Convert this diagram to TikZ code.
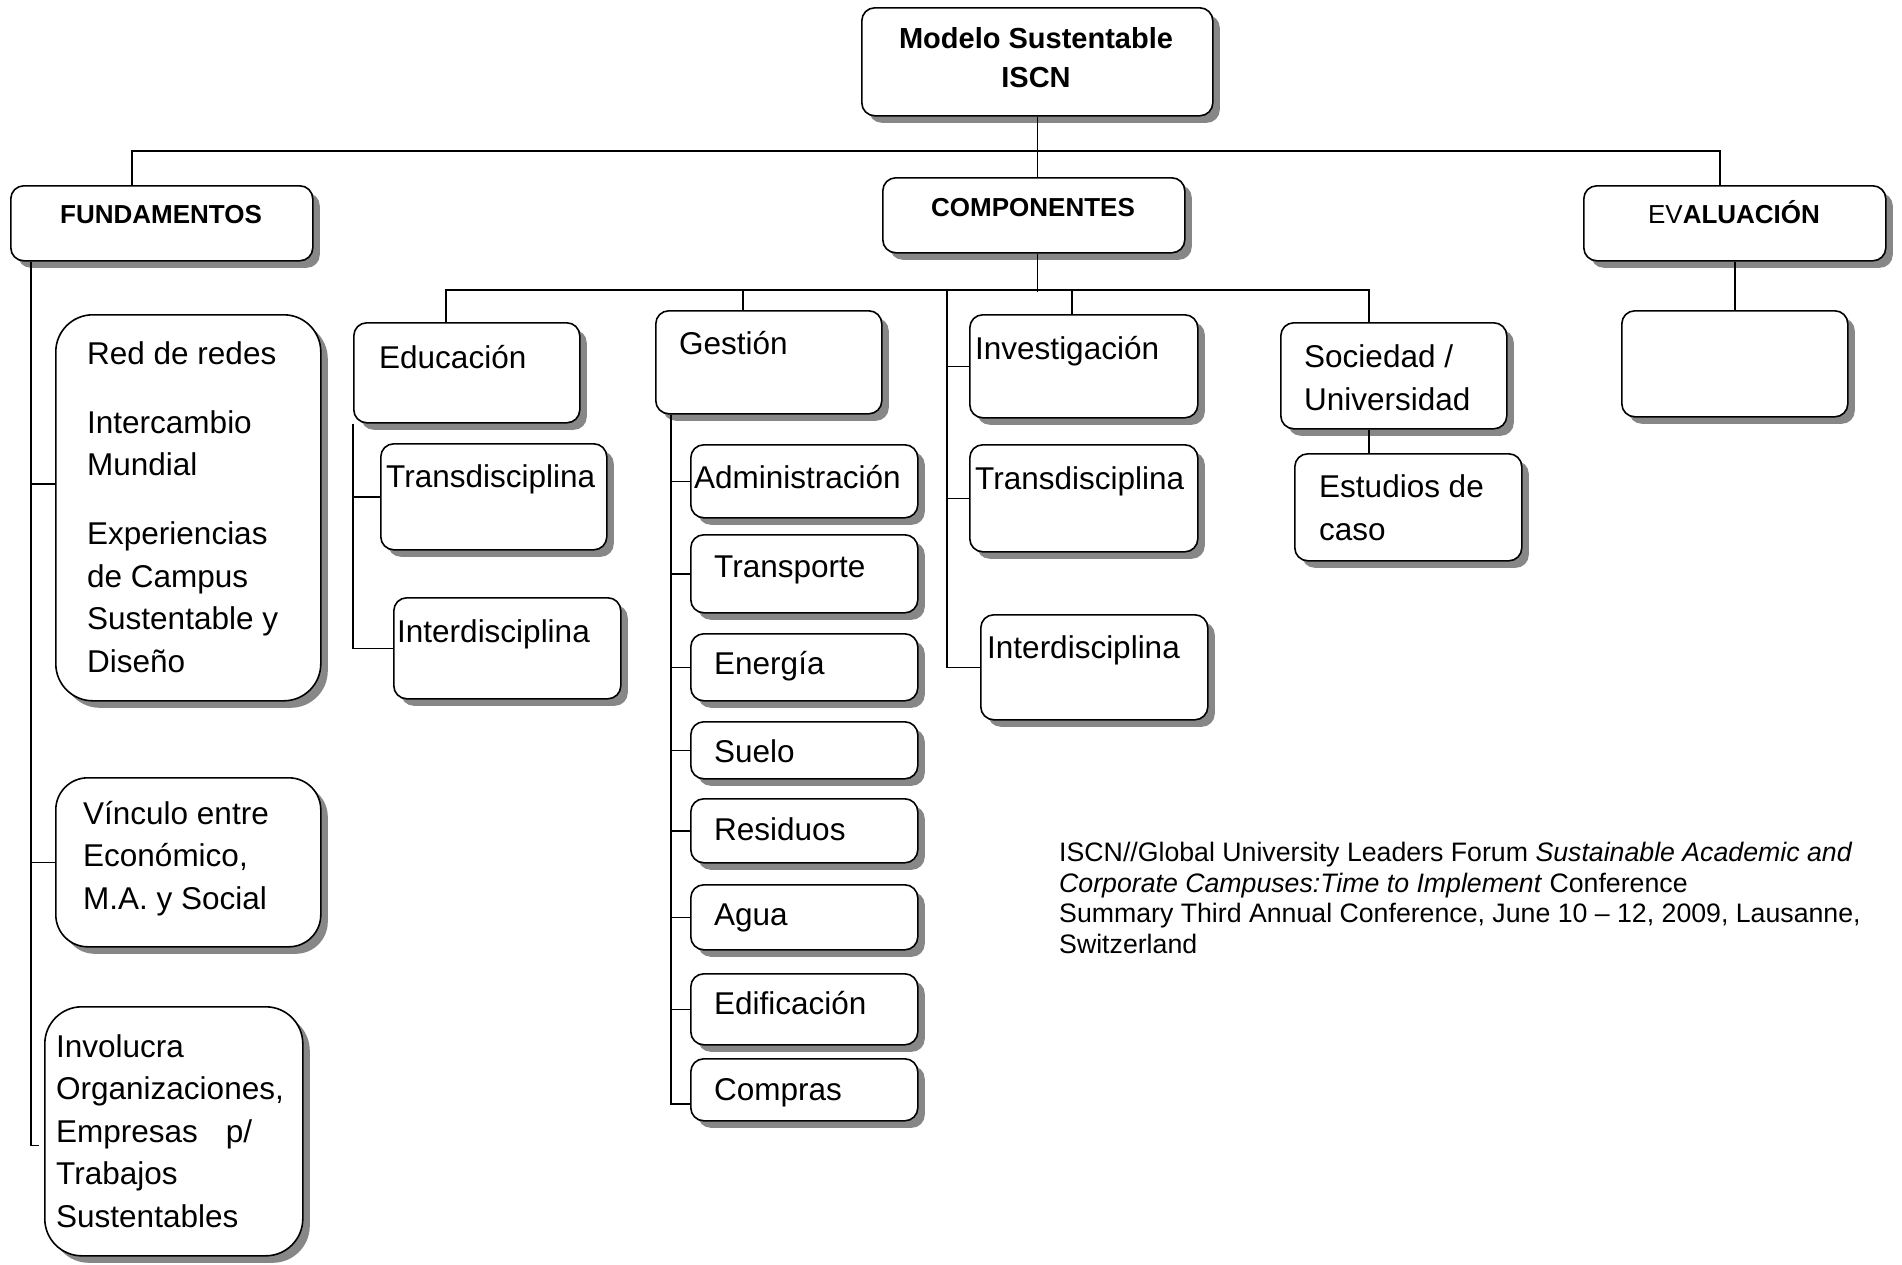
\documentclass[tikz,border=0pt]{standalone}
\usepackage{fontspec}
\setmainfont{Liberation Sans}
\usetikzlibrary{shadows,calc}

\begin{document}
\begin{tikzpicture}[x=1pt, y=-1pt,
    box/.style={draw, line width=1.6pt, fill=white, rounded corners=13pt, anchor=north west, inner sep=0pt,
        drop shadow={shadow xshift=7pt, shadow yshift=-7pt, fill=black!47, opacity=1}},
    bigbox/.style={box, rounded corners=37pt},
    conn/.style={line width=1.5pt},
    txt/.style={inner sep=0pt, anchor=base west, align=left, font=\fontsize{31.5}{42.5}\selectfont},
    head/.style={inner sep=0pt, anchor=base, align=center, font=\fontsize{26}{30}\selectfont\bfseries}]
    \useasboundingbox (0,0) rectangle (1902,1264);

    % Modelo (multi-line texts sit on their last line)
    \node[box, minimum width=351, minimum height=108] (modelo) at (861,7) {};
    \node[head, font=\fontsize{29}{39}\selectfont\bfseries] (modeloT) at (1036,87) {Modelo Sustentable\\ISCN};

    \node[box, minimum width=302, minimum height=75] (fund) at (10,185) {};
    \node[head] (fundT) at (161,223) {FUNDAMENTOS};
    \node[box, minimum width=302, minimum height=75] (comp) at (882,177) {};
    \node[head] (compT) at (1033,216) {COMPONENTES};
    \node[box, minimum width=302, minimum height=75] (eval) at (1583,185) {};
    \node[head] (evalT) at (1734,223) {\mdseries EV\bfseries ALUACIÓN};

    % Fundamentos
    \node[bigbox, minimum width=265, minimum height=386] (red) at (55,314) {};
    \node[txt] (redT) at (87,672) {Red de redes\\[26.5pt]Intercambio\\Mundial\\[26.5pt]Experiencias\\de Campus\\Sustentable y\\Diseño};
    \node[bigbox, rounded corners=32pt, minimum width=265, minimum height=169] (vinc) at (55,777) {};
    \node[txt] (vincT) at (83,909) {Vínculo entre\\Económico,\\M.A. y Social};
    \node[bigbox, minimum width=258, minimum height=249] (invol) at (44,1006) {};
    \node[txt] (involT) at (56,1227) {Involucra\\Organizaciones,\\Empresas\hspace{28pt}p/\\Trabajos\\Sustentables};

    % Educacion
    \node[box, minimum width=226, minimum height=100] (edu) at (353,322) {};
    \node[txt] (eduT) at (379,368) {Educación};
    \node[box, minimum width=226, minimum height=106] (edtrans) at (380,443) {};
    \node[txt] (edtransT) at (386,487) {Transdisciplina};
    \node[box, minimum width=227, minimum height=101] (edinter) at (393,597) {};
    \node[txt] (edinterT) at (397,642) {Interdisciplina};

    % Gestion
    \node[box, minimum width=226, minimum height=103] (gest) at (655,310) {};
    \node[txt] (gestT) at (679,354) {Gestión};
    \node[box, minimum width=227, minimum height=73] (admin) at (690,444) {};
    \node[txt] (adminT) at (694,488) {Administración};
    \node[box, minimum width=227, minimum height=78] (transp) at (690,534) {};
    \node[txt] (transpT) at (714,577) {Transporte};
    \node[box, minimum width=227, minimum height=67] (energ) at (690,633) {};
    \node[txt] (energT) at (714,674) {Energía};
    \node[box, minimum width=227, minimum height=57] (suelo) at (690,721) {};
    \node[txt] (sueloT) at (714,762) {Suelo};
    \node[box, minimum width=227, minimum height=64] (resid) at (690,798) {};
    \node[txt] (residT) at (714,840) {Residuos};
    \node[box, minimum width=227, minimum height=65] (agua) at (690,884) {};
    \node[txt] (aguaT) at (714,925) {Agua};
    \node[box, minimum width=227, minimum height=71] (edif) at (690,973) {};
    \node[txt] (edifT) at (714,1014) {Edificación};
    \node[box, minimum width=227, minimum height=62] (compr) at (690,1058) {};
    \node[txt] (comprT) at (714,1100) {Compras};

    % Investigacion
    \node[box, minimum width=228, minimum height=103] (inv) at (969,314) {};
    \node[txt] (invT) at (975,359) {Investigación};
    \node[box, minimum width=228, minimum height=107] (invtrans) at (969,444) {};
    \node[txt] (invtransT) at (975,489) {Transdisciplina};
    \node[box, minimum width=227, minimum height=105] (invinter) at (980,614) {};
    \node[txt] (invinterT) at (987,658) {Interdisciplina};

    % Sociedad y evaluacion
    \node[box, minimum width=226, minimum height=106] (soc) at (1280,322) {};
    \node[txt] (socT) at (1304,410) {Sociedad /\\Universidad};
    \node[box, minimum width=227, minimum height=107] (est) at (1294,453) {};
    \node[txt] (estT) at (1319,540) {Estudios de\\caso};
    \node[box, minimum width=226, minimum height=106] (empty) at (1621,310) {};

    % Fuente
    \node[inner sep=0pt, anchor=base west, align=left, font=\fontsize{26.7}{30.5}\selectfont] (fuente) at (1059,953)
        {ISCN//Global University Leaders Forum \textit{Sustainable Academic and}\\\textit{Corporate Campuses:Time to Implement} Conference\\Summary Third Annual Conference, June 10 – 12, 2009, Lausanne,\\Switzerland};

    % Conectores
    \draw[conn] ([xshift=122pt]fund.north west) -- ++(0,-34) -| ([xshift=137pt]eval.north west);
    \draw[conn] (modelo.south) -- (modelo.south |- comp.north);
    \draw[conn] ([xshift=3.5pt]comp.south) -- ++(0,38);
    \draw[conn] ([xshift=93pt]edu.north west) -- ++(0,-32) -| ([xshift=89pt]soc.north west);
    \draw[conn] ([xshift=88pt]gest.north west) -- ++(0,-20);
    \draw[conn] ([xshift=103pt]inv.north west) -- ++(0,-24);
    \draw[conn] (eval.south) -- (empty.north);
    \draw[conn] ([xshift=89pt]soc.south west) -- ([xshift=75pt]est.north west);

    \draw[conn] ([xshift=21pt]fund.south west) coordinate (fspine) -- ++(0,884) -- ++(8,0);
    \coordinate (redIn) at ([yshift=24pt]red.west);
    \draw[conn] (redIn -| fspine) -- (redIn);
    \draw[conn] (vinc.west -| fspine) -- (vinc.west);

    \draw[conn] (edu.south west) |- (edinter.west);
    \draw[conn] (edu.south west |- edtrans.west) -- (edtrans.west);

    \draw[conn] ([xshift=16pt]gest.south west) coordinate (gspine) |- ([yshift=-14pt]compr.west);
    \foreach \b in {admin,transp,energ,suelo,resid,agua,edif}
        \draw[conn] (\b.west -| gspine) -- (\b.west);

    \draw[conn] ([shift={(-22pt,24pt)}]inv.north west) coordinate (ispine) |- (invinter.west);
    \draw[conn] (inv.west -| ispine) -- (inv.west);
    \draw[conn] (invtrans.west -| ispine) -- (invtrans.west);
\end{tikzpicture}
\end{document}
